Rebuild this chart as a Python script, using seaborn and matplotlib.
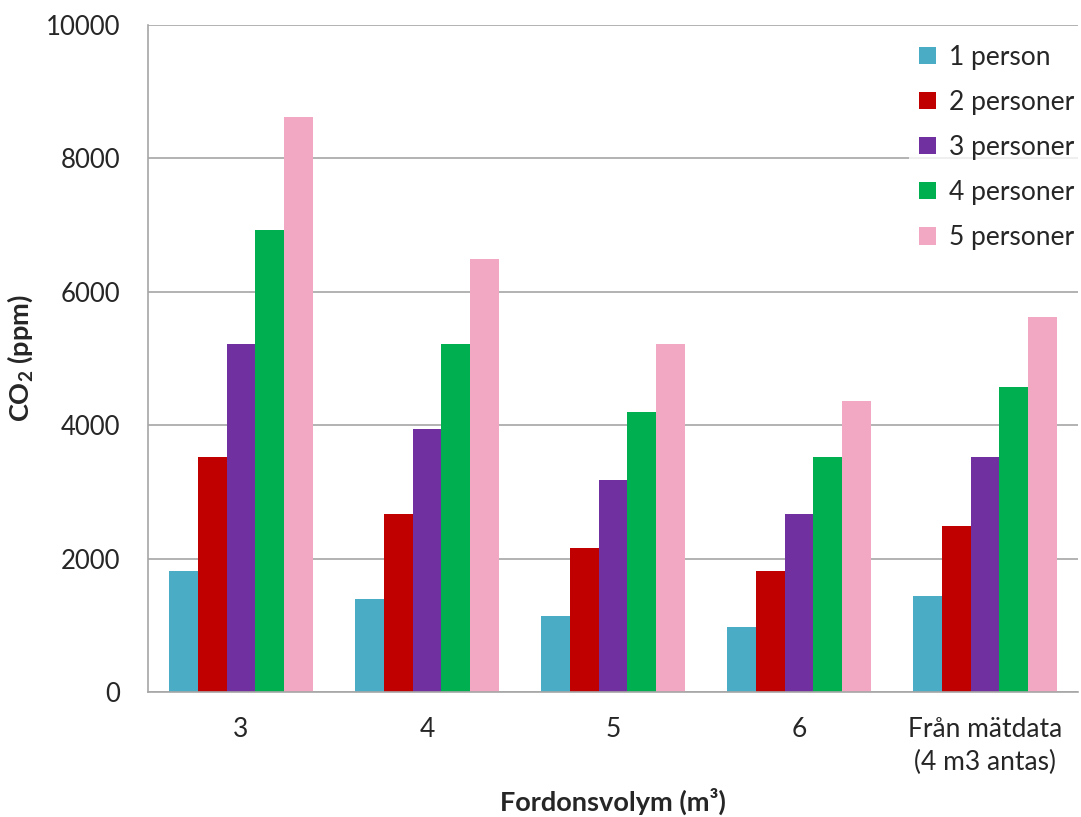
import matplotlib
matplotlib.use("Agg")
import matplotlib.pyplot as plt
import seaborn as sns
import pandas as pd
import numpy as np

categories = ["3", "4", "5", "6", "Från mätdata\n(4 m3 antas)"]
series_names = ["1 person", "2 personer", "3 personer", "4 personer", "5 personer"]
p1 = [1820, 1395, 1140, 970, 1440]
p2 = [3520, 2670, 2160, 1820, 2490]
p3 = [5220, 3945, 3180, 2670, 3530]
p4 = [6920, 5220, 4200, 3520, 4580]
p5 = [8620, 6495, 5220, 4370, 5620]
colors = ["#4BACC6", "#C00000", "#7030A0", "#00B050", "#F2A7C3"]
yticks = [0, 2000, 4000, 6000, 8000, 10000]

rows = []
for name, vals in zip(series_names, [p1, p2, p3, p4, p5]):
    for c, v in zip(categories, vals):
        rows.append({"cat": c, "series": name, "value": v})
df = pd.DataFrame(rows)

sns.set_style("white")
plt.rcParams["font.family"] = ["Lato", "DejaVu Sans"]
plt.rcParams["mathtext.fontset"] = "custom"
plt.rcParams["mathtext.rm"] = "Lato"
plt.rcParams["mathtext.bf"] = "Lato:bold"

fig = plt.figure(figsize=(10.81, 8.17), dpi=100)
ax = fig.add_axes([148/1081, 1-692/817, (1078-148)/1081, (692-25)/817])

sns.barplot(data=df, x="cat", y="value", hue="series", order=categories,
            hue_order=series_names, palette=colors, width=0.77, gap=0,
            saturation=1, linewidth=0, ax=ax, errorbar=None)

ax.set_ylim(0, 10000)
ax.set_xlim(-0.5, len(categories) - 0.5)
ax.set_yticks(yticks)
ax.set_yticklabels([str(t) for t in yticks], fontsize=18.5)
ax.yaxis.grid(True, color="#A6A6A6", linewidth=1.2)
ax.set_axisbelow(True)
for s in ["top", "right"]:
    ax.spines[s].set_visible(False)
ax.spines["left"].set_color("#A6A6A6")
ax.spines["bottom"].set_color("#A6A6A6")
ax.spines["left"].set_linewidth(1.2)
ax.spines["bottom"].set_linewidth(1.2)

ax.tick_params(axis="x", which="major", length=0, labelsize=19, pad=18)
for lbl in ax.get_xticklabels():
    lbl.set_linespacing(1.4)
ax.set_xticks(np.arange(-0.5, len(categories), 1.0), minor=True)
ax.tick_params(axis="x", which="minor", length=8, color="#A6A6A6", width=1.2)
ax.tick_params(axis="y", length=0, pad=20)

ax.set_ylabel("CO$_{\\mathbf{2}}$ (ppm)", fontsize=19.5, fontweight="bold")
ax.yaxis.set_label_coords(-0.1215, 0.5)
ax.set_xlabel("Fordonsvolym (m³)", fontsize=19.5, fontweight="bold")
ax.xaxis.set_label_coords(0.5, -0.143)

leg = ax.legend(loc="upper right", bbox_to_anchor=(1.022, 1.006), frameon=True,
                fontsize=19, handlelength=0.65, handleheight=0.65,
                labelspacing=0.76, handletextpad=0.5, borderpad=0.4)
leg.get_frame().set_facecolor("white")
leg.get_frame().set_edgecolor("white")
leg.get_frame().set_linewidth(0)
leg.get_frame().set_boxstyle("square", pad=0)

fig.savefig("out.png", dpi=100)
